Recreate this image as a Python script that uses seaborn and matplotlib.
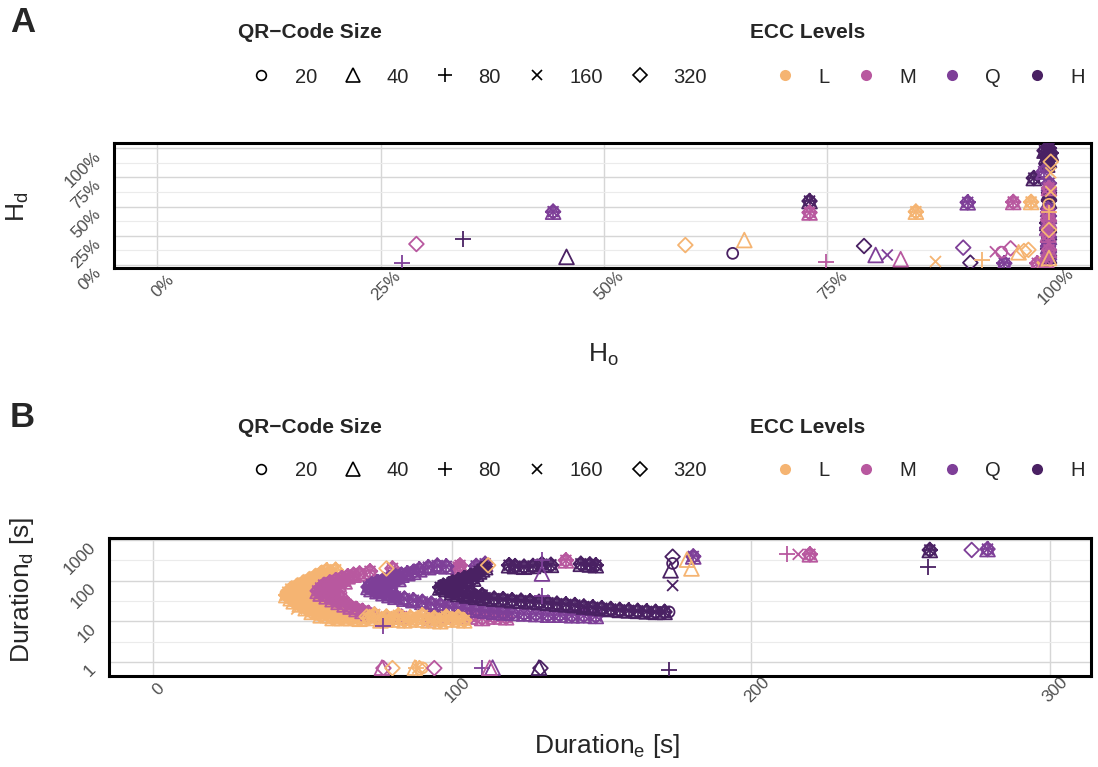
import matplotlib
matplotlib.use("Agg")
import matplotlib.pyplot as plt
import matplotlib.ticker as mticker
from matplotlib.markers import MarkerStyle
from matplotlib.transforms import Affine2D
from matplotlib.lines import Line2D
import pandas as pd
import seaborn as sns

sns.set_theme(style="white")
plt.rcParams['font.family'] = ['Liberation Sans', 'DejaVu Sans']
plt.rcParams['mathtext.fontset'] = 'custom'
plt.rcParams['mathtext.rm'] = 'Liberation Sans'
plt.rcParams['mathtext.it'] = 'Liberation Sans:italic'

# ---------------- categories ----------------
ecc_levels = ['L', 'M', 'Q', 'H']
ecc_colors = ['#F5B472', '#B8589F', '#7E3F98', '#4A2163']
qr_sizes = ['20', '40', '80', '160', '320']

# ---------------- panel A data (H_o, H_d) ----------------
# clusters where all five QR-code sizes overlap (ecc, H_o, H_d)
a_blobs = [
    ('Q', 0.443, 0.457), ('H', 0.730, 0.548), ('M', 0.730, 0.450),
    ('L', 0.849, 0.457), ('Q', 0.907, 0.537), ('Q', 0.948, 0.015),
    ('M', 0.958, 0.540), ('L', 0.978, 0.540), ('M', 0.985, 0.015),
    ('L', 0.993, 0.020), ('H', 0.981, 0.745),
    ('H', 0.998, 1.000), ('H', 0.993, 0.980), ('H', 1.000, 0.960),
    ('H', 0.995, 0.930), ('H', 0.998, 0.900), ('H', 0.996, 0.860),
    ('H', 0.998, 0.620), ('H', 0.998, 0.550), ('H', 0.996, 0.360),
    ('H', 0.998, 0.280), ('H', 0.997, 0.200), ('H', 0.998, 0.080),
    ('Q', 0.992, 0.800), ('Q', 0.998, 0.700), ('Q', 0.997, 0.480),
    ('Q', 0.998, 0.420), ('Q', 0.996, 0.320), ('Q', 0.998, 0.240),
    ('Q', 0.997, 0.160), ('Q', 0.998, 0.110),
    ('M', 0.998, 0.660), ('M', 0.997, 0.450), ('M', 0.998, 0.380),
    ('M', 0.997, 0.260), ('M', 0.998, 0.130), ('M', 0.995, 0.040),
]
# single observations (ecc, size, H_o, H_d)
a_singles = [
    ('Q', '80', 0.274, 0.020), ('M', '320', 0.290, 0.180),
    ('H', '80', 0.342, 0.220), ('H', '40', 0.458, 0.070),
    ('L', '320', 0.591, 0.171), ('H', '20', 0.644, 0.100),
    ('L', '40', 0.657, 0.214), ('M', '80', 0.748, 0.030),
    ('H', '320', 0.791, 0.163), ('Q', '40', 0.804, 0.086),
    ('Q', '160', 0.817, 0.086), ('M', '40', 0.832, 0.050),
    ('L', '160', 0.871, 0.030), ('Q', '320', 0.902, 0.149),
    ('H', '320', 0.910, 0.020), ('L', '80', 0.923, 0.043),
    ('M', '160', 0.938, 0.114), ('M', '20', 0.945, 0.110),
    ('M', '320', 0.955, 0.143), ('L', '40', 0.964, 0.109),
    ('L', '320', 0.970, 0.120), ('L', '320', 0.975, 0.130),
    ('L', '320', 1.000, 0.885), ('L', '160', 1.000, 0.790),
    ('L', '160', 1.000, 0.630), ('L', '320', 0.998, 0.300),
    ('L', '80', 0.998, 0.450), ('L', '20', 0.998, 0.520),
    ('L', '40', 0.998, 0.060),
]

# ---------------- panel B data (Duration_e, Duration_d) ----------------
b_L_blobs = [
    (58, 180), (61, 185), (56, 150), (59, 155), (54, 125), (57, 128),
    (52, 105), (55, 107), (58, 110), (50, 88), (53, 90), (56, 92),
    (48, 74), (51, 76), (54, 78), (46, 62), (49, 63), (52, 65), (55, 66),
    (45, 52), (48, 53), (51, 55), (54, 56), (44.5, 44), (47, 45), (50, 46),
    (53, 47), (56, 48), (46, 37), (49, 38), (52, 39), (55, 40), (58, 41),
    (47, 31), (50, 32), (53, 33), (56, 34), (59, 35), (49, 26), (52, 27),
    (55, 27), (58, 28), (61, 29), (51, 21), (54, 22), (57, 22), (60, 23),
    (63, 23), (53, 17), (56, 17.5), (59, 18), (62, 18), (65, 18.5), (68, 18),
    (56, 14), (59, 14), (62, 14.5), (65, 14.5), (68, 14.5), (71, 14),
    (60, 12), (63, 12), (66, 12), (69, 11.5),
]
b_L_band = [
    (72, 12), (74, 14.5), (76, 10.5), (78, 13), (80, 11), (82, 14),
    (84, 10.5), (86, 12.5), (88, 11), (90, 14), (92, 10.5), (94, 12),
    (96, 10), (98, 13), (100, 11), (102, 12.5), (104, 10.5),
]
b_M_blobs = [
    (55, 56), (56, 66), (57, 78), (59, 90), (61, 102), (63, 115), (65, 128),
    (67, 140), (69, 150), (58, 60), (60, 72), (62, 84), (64, 96),
    (56, 48), (58, 41), (60, 35), (62, 30), (64, 26), (66, 23), (68, 20),
    (70, 18), (72, 16), (74, 14.5), (60, 44), (63, 38),
    (78, 12.5), (83, 13), (93, 12), (97, 13.5), (106, 13), (110, 12),
    (114, 13), (118, 12.5),
    (72.5, 170), (80, 200), (102.6, 237), (102, 215), (138, 316),
    (219.6, 445),
]
b_Q_blobs = [
    (72, 70), (73, 80), (75, 92), (77, 104), (79, 116), (81, 128), (83, 140),
    (85, 152), (87, 165), (75, 76), (77, 87), (79, 98), (82, 110),
    (73, 62), (75, 55), (77, 49), (79, 44), (81, 40), (84, 36), (87, 33),
    (90, 30), (93, 27), (96, 25), (99, 23), (102, 21), (105, 20), (108, 19),
    (111, 18), (114, 17), (117, 16.5), (120, 16), (76, 58), (80, 50),
    (124, 15.5), (128, 15), (132, 14.5), (136, 14.5), (140, 14), (144, 14),
    (148, 13.5),
    (89, 190), (92, 215), (95, 235), (98, 225), (108, 230), (111, 260),
    (180.6, 395), (279, 600),
]
b_H_blobs = [
    (97, 75), (96, 68), (98, 62), (100, 58), (99, 82), (101, 72), (103, 65),
    (100, 90), (102, 102), (104, 115), (106, 130), (108, 148), (109, 168),
    (110, 190), (111, 215), (103, 88), (105, 100), (107, 112),
    (100, 52), (102, 47), (105, 43), (108, 40), (111, 38), (114, 36),
    (117, 35), (120, 33), (123, 32), (126, 31), (129, 30), (132, 28.5),
    (135, 27), (138, 26), (141, 25), (144, 23), (147, 22), (150, 21),
    (153, 20), (156, 19), (159, 18.5), (162, 18), (165, 17.5), (168, 17),
    (171, 17), (106, 48), (110, 44),
    (119, 240), (121, 228), (124, 220), (127, 230), (130, 255), (133, 245),
    (143, 260), (146, 250), (148, 240), (259.7, 570),
]
b_singles = [
    ('L', '160', 48, 20), ('L', '320', 71.4, 13), ('L', '80', 98, 12),
    ('L', '320', 102, 12.6), ('L', '320', 78, 200), ('L', '320', 112, 240),
    ('Q', '80', 76.8, 7.5), ('Q', '80', 130, 42), ('Q', '40', 130, 150),
    ('Q', '80', 130, 316),
    ('H', '320', 173.7, 390), ('H', '20', 173.7, 266), ('H', '40', 173, 180),
    ('H', '160', 173.7, 76), ('H', '20', 172.5, 17),
    ('L', '40', 180, 200), ('L', '40', 178.5, 330),
    ('M', '80', 212, 445), ('M', '160', 215.7, 445),
    ('H', '80', 259, 220), ('Q', '320', 273.7, 570),
    ('M', '40', 76.5, 0.72), ('M', '320', 77, 0.70), ('L', '320', 80, 0.70),
    ('L', '40', 87.5, 0.72), ('L', '80', 88, 0.70), ('L', '320', 89, 0.70),
    ('L', '160', 88.5, 0.70), ('L', '20', 90, 0.71), ('M', '320', 94, 0.70),
    ('Q', '80', 110, 0.72), ('Q', '40', 113.5, 0.72), ('M', '40', 112.5, 0.71),
    ('H', '40', 129, 0.72), ('H', '320', 129.5, 0.70), ('H', '80', 172.5, 0.63),
]


def blob_rows(ecc, pts):
    return [(ecc, s, x, y) for (x, y) in pts for s in qr_sizes]


rows_a = [(e, s, x, y) for (e, x, y) in a_blobs for s in qr_sizes] + a_singles
df_a = pd.DataFrame(rows_a, columns=['ecc', 'size', 'x', 'y'])

rows_b = (blob_rows('L', b_L_blobs) + blob_rows('M', b_M_blobs)
          + blob_rows('Q', b_Q_blobs) + blob_rows('H', b_H_blobs)
          + blob_rows('L', b_L_band) + b_singles)
df_b = pd.DataFrame(rows_b, columns=['ecc', 'size', 'x', 'y'])

# ---------------- styling ----------------
def mk(sym, scale):
    return MarkerStyle(sym, fillstyle='none', transform=Affine2D().scale(scale))

marker_map = {'20': mk('o', 1.0), '40': mk('^', 1.35), '80': mk('+', 1.45),
              '160': mk('x', 1.0), '320': mk('D', 0.95)}
palette = dict(zip(ecc_levels, ecc_colors))

fig = plt.figure(figsize=(10.98, 7.67), dpi=100)
ax_a = fig.add_axes([0.1038, 0.6502, 0.8898, 0.1630])
ax_b = fig.add_axes([0.0995, 0.1186, 0.8941, 0.1799])

for ax, df in ((ax_a, df_a), (ax_b, df_b)):
    sns.scatterplot(data=df, x='x', y='y', hue='ecc', style='size',
                    hue_order=ecc_levels, palette=palette,
                    style_order=qr_sizes, markers=marker_map,
                    s=62, linewidth=1.3, legend=False, ax=ax, zorder=3)
    # open (line-art) markers: stroke with the hue colour, no fill
    coll = ax.collections[-1]
    coll.set_edgecolors(coll.get_facecolors())
    coll.set_facecolors('none')
    coll.set_linewidths(1.3)
    ax.set_axisbelow(True)
    for sp in ax.spines.values():
        sp.set_visible(True)
        sp.set_color('black')
        sp.set_linewidth(2.2)
    ax.grid(which='major', axis='both', color='#D6D6D6', lw=1.0)
    ax.grid(which='minor', axis='y', color='#EBEBEB', lw=0.8)
    ax.tick_params(which='both', length=0, labelsize=12.3, labelcolor='#4D4D4D')

# panel A axes
ax_a.set_xlim(-0.0485, 1.045)
ax_a.set_ylim(-0.028, 1.043)
ax_a.set_xticks([0, 0.25, 0.5, 0.75, 1.0])
ax_a.set_yticks([0, 0.25, 0.5, 0.75, 1.0])
ax_a.yaxis.set_minor_locator(mticker.FixedLocator([0.125, 0.375, 0.625, 0.875]))
ax_a.xaxis.set_major_formatter(mticker.PercentFormatter(1.0, decimals=0))
ax_a.yaxis.set_major_formatter(mticker.PercentFormatter(1.0, decimals=0))
ax_a.set_xlabel(r'H$_\mathrm{o}$', fontsize=19)
ax_a.set_ylabel(r'H$_\mathrm{d}$', fontsize=19)
ax_a.xaxis.set_label_coords(0.5005, -0.694)
ax_a.yaxis.set_label_coords(-0.0983, 0.49)

# panel B axes
ax_b.set_yscale('log')
ax_b.set_xlim(-14.7, 313.6)
ax_b.set_ylim(0.447, 1122)
ax_b.set_xticks([0, 100, 200, 300])
ax_b.set_yticks([1, 10, 100, 1000])
ax_b.yaxis.set_major_formatter(mticker.FixedFormatter(['1', '10', '100', '1000']))
ax_b.yaxis.set_minor_locator(mticker.FixedLocator([3.162, 31.62, 316.2]))
ax_b.yaxis.set_minor_formatter(mticker.NullFormatter())
ax_b.set_xlabel(r'Duration$_\mathrm{e}$ [s]', fontsize=19)
ax_b.set_ylabel(r'Duration$_\mathrm{d}$ [s]', fontsize=19)
ax_b.xaxis.set_label_coords(0.507, -0.507)
ax_b.yaxis.set_label_coords(-0.0889, 0.623)

for ax, xpad in ((ax_a, 9), (ax_b, 6)):
    ax.xaxis.label.set_va('center')
    ax.yaxis.label.set_va('center')
    ax.tick_params(axis='x', pad=xpad)
    ax.tick_params(axis='y', pad=15)
    for lab in ax.get_xticklabels():
        lab.set_rotation(45)
        lab.set_ha('center')
        lab.set_va('top')
        lab.set_rotation_mode('anchor')
    for lab in ax.get_yticklabels():
        lab.set_rotation(45)
        lab.set_ha('right')
        lab.set_va('top')
        lab.set_rotation_mode('anchor')

# ---------------- legends ----------------
shape_handles = [Line2D([], [], marker=marker_map[s], linestyle='None',
                        color='black', markersize=7.0, markeredgewidth=1.2)
                 for s in qr_sizes]
color_handles = [Line2D([], [], marker='o', linestyle='None',
                        markerfacecolor=c, markeredgewidth=0, markersize=8)
                 for c in ecc_colors]

for title_y, row_y, letter in ((0.957, 0.8996, 'A'), (0.442, 0.387, 'B')):
    fig.text(0.009, title_y + 0.014, letter, fontsize=25, fontweight='bold',
             ha='left', va='center')
    fig.text(0.2168, title_y, 'QR−Code Size', fontsize=15, fontweight='bold',
             ha='left', va='center')
    fig.text(0.683, title_y, 'ECC Levels', fontsize=15, fontweight='bold',
             ha='left', va='center')
    fig.legend(shape_handles, qr_sizes, loc='center left',
               bbox_to_anchor=(0.2288, row_y), ncol=5, frameon=False,
               handlelength=1.0, handletextpad=1.15, columnspacing=1.3,
               borderpad=0, borderaxespad=0, fontsize=14.5)
    fig.legend(color_handles, ecc_levels, loc='center left',
               bbox_to_anchor=(0.706, row_y), ncol=4, frameon=False,
               handlelength=1.0, handletextpad=1.15, columnspacing=1.3,
               borderpad=0, borderaxespad=0, fontsize=14.5)

fig.savefig('out.png', dpi=100)
